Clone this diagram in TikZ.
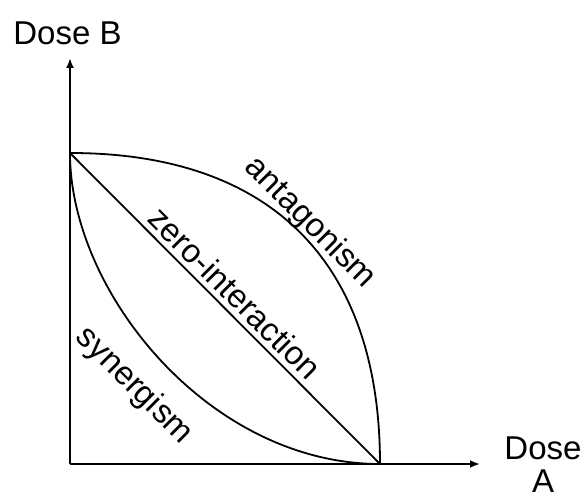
\documentclass[tikz,border=0pt]{standalone}
\usepackage{fontspec}
\setmainfont{Liberation Sans}
\usetikzlibrary{arrows.meta}

\begin{document}
\begin{tikzpicture}[x=1pt, y=1pt,
      axis/.style={line width=2pt, -{Latex[length=10pt, width=8pt]}},
      curve/.style={line width=1.8pt},
      lbl/.style={inner sep=0pt, font=\fontsize{33}{33}\selectfont, align=center},
      diag/.style={lbl, rotate=-45}]

    \useasboundingbox (0,0) rectangle (585,492);

    \coordinate (o) at (70,28);
    \coordinate (b) at (70,339);
    \coordinate (a) at (380,28);
    \coordinate (ytip) at (70,434);
    \coordinate (xtip) at (480,28);

    \draw[axis] (o) -- (ytip);
    \draw[axis] (o) -- (xtip);

    \draw[curve] (b) -- (a);
    \draw[curve] (b) .. controls (271.5,339) and (380,229.5) .. (a);
    \draw[curve] (b) .. controls (70,199.5) and (209.5,28) .. (a);

    \node[lbl, anchor=base] (doseb) at (67.5,447) {Dose B};
    \node[lbl, anchor=north] (dosea) at (543,55) {Dose\\A};

    \node[diag] (zero) at (235,199) {zero-interaction};
    \node[diag] (anta) at (310,269) {antagonism};
    \node[diag] (syn) at (134,106) {synergism};
  \end{tikzpicture}
\end{document}
